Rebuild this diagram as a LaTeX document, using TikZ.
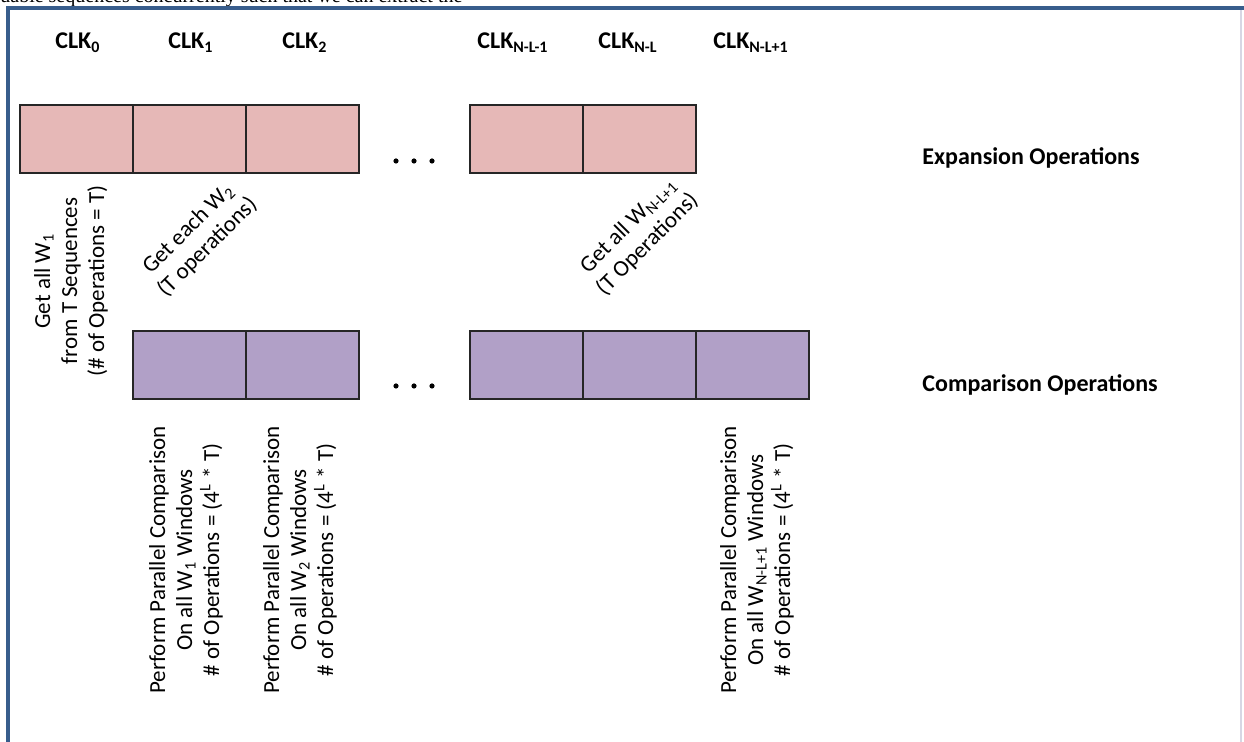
\documentclass[tikz,border=0pt]{standalone}
\usepackage{fontspec}
\setmainfont{Carlito}
\newfontfamily\serifcut{Liberation Serif}
\definecolor{frameblue}{RGB}{56,93,140}
\definecolor{pinkfill}{RGB}{230,184,183}
\definecolor{purplefill}{RGB}{177,160,199}
\definecolor{rightgray}{RGB}{215,215,228}
\begin{document}
\begin{tikzpicture}[x=0.5pt,y=-0.5pt,
  cell/.style={draw=black!85, line width=0.6pt, minimum width=56.5pt, minimum height=34pt, inner sep=0pt},
  expcell/.style={cell, fill=pinkfill},
  cmpcell/.style={cell, fill=purplefill},
  clk/.style={font=\bfseries\fontsize{12}{14}\selectfont, anchor=base west, inner sep=0pt},
  rowlabel/.style={font=\bfseries\fontsize{12}{14}\selectfont, anchor=base west, inner sep=0pt},
  note/.style={font=\fontsize{11.5}{13.5}\selectfont, align=center, inner sep=0pt},
  dot/.style={fill=black}
]
\useasboundingbox (0,0) rectangle (1244,742);
\fill[white] (0,0) rectangle (1244,742);
% cut-off text line of the page above
\node[font=\serifcut\fontsize{10}{11}\selectfont, anchor=base west, inner sep=0pt] (cut) at (0,3) {uable sequences concurrently such that we can extract the};
% frame
\draw[frameblue, line width=2pt] (8,742) -- (8,8) -- (1244,8);
\draw[rightgray, line width=0.7pt] (1241,10) -- (1241,742);

% clock labels
\node[clk] (clk0) at (55,49) {CLK\textsubscript{0}};
\node[clk] (clk1) at (168,49) {CLK\textsubscript{1}};
\node[clk] (clk2) at (282,49) {CLK\textsubscript{2}};
\node[clk] (clkA) at (477,49) {CLK\textsubscript{N-L-1}};
\node[clk] (clkB) at (598,49) {CLK\textsubscript{N-L}};
\node[clk] (clkC) at (713,49) {CLK\textsubscript{N-L+1}};

% expansion row
\node[expcell] (e0) at (76.5,139) {};
\node[expcell] (e1) at (189.5,139) {};
\node[expcell] (e2) at (302.5,139) {};
\node[expcell] (eA) at (526.5,139) {};
\node[expcell] (eB) at (639.5,139) {};

% comparison row
\node[cmpcell] (c1) at (189.5,365) {};
\node[cmpcell] (c2) at (302.5,365) {};
\node[cmpcell] (cA) at (526.5,365) {};
\node[cmpcell] (cB) at (639.5,365) {};
\node[cmpcell] (cC) at (752.5,365) {};

% ellipses
\foreach \xx in {396,414,432} {
  \fill[dot] (\xx,161) circle[radius=1.3pt];
  \fill[dot] (\xx,386) circle[radius=1.3pt];
}

% row labels
\node[rowlabel] (explabel) at (922,165) {Expansion Operations};
\node[rowlabel] (cmplabel) at (922,392) {Comparison Operations};

% expansion notes
\node[note, rotate=90] (n0) at (71,281) {Get all W\textsubscript{1}\\from T Sequences\\(\# of Operations = T)};
\node[note, rotate=45] (n1) at (198,238) {Get each W\textsubscript{2}\\(T operations)};
\node[note, rotate=45] (nA) at (638,235) {Get all W\textsubscript{N-L+1}\\(T Operations)};

% comparison notes
\node[note, rotate=90] (m1) at (186,560) {Perform Parallel Comparison\\On all W\textsubscript{1} Windows\\\# of Operations = (4\textsuperscript{L} * T)};
\node[note, rotate=90] (m2) at (300,560) {Perform Parallel Comparison\\On all W\textsubscript{2} Windows\\\# of Operations = (4\textsuperscript{L} * T)};
\node[note, rotate=90] (mC) at (757,560) {Perform Parallel Comparison\\On all W\textsubscript{N-L+1} Windows\\\# of Operations = (4\textsuperscript{L} * T)};
\end{tikzpicture}
\end{document}
